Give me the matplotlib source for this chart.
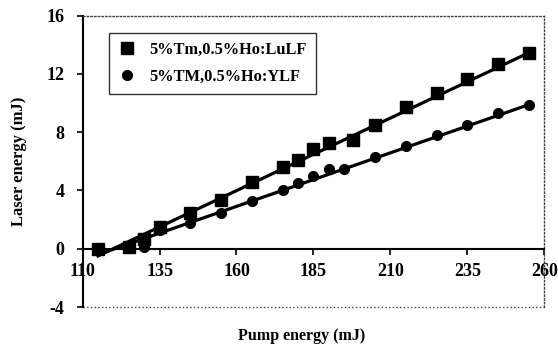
import numpy as np
import matplotlib.pyplot as plt

plt.rcParams['font.family'] = ['Liberation Serif', 'DejaVu Serif']
plt.rcParams['font.weight'] = 'bold'
plt.rcParams['axes.unicode_minus'] = False

# LuLF (squares)
pump_lulf = [115, 125, 130, 135, 145, 155, 165, 175, 180, 185, 190, 198, 205, 215, 225, 235, 245, 255]
energy_lulf = [0.0, 0.1, 0.7, 1.5, 2.45, 3.35, 4.55, 5.6, 6.1, 6.85, 7.25, 7.45, 8.5, 9.7, 10.65, 11.65, 12.65, 13.4]

# YLF (circles)
pump_ylf = [130, 135, 145, 155, 165, 175, 180, 185, 190, 195, 205, 215, 225, 235, 245, 255]
energy_ylf = [0.15, 1.25, 1.75, 2.45, 3.3, 4.05, 4.5, 5.0, 5.5, 5.5, 6.3, 7.05, 7.8, 8.5, 9.3, 9.85]

# linear fits (threshold, slope)
lulf_threshold, lulf_slope = 120.0, 0.0996
ylf_threshold, ylf_slope = 120.5, 0.0735

labels = ['5%Tm,0.5%Ho:LuLF', '5%TM,0.5%Ho:YLF']

fig = plt.figure(figsize=(5.58, 3.46), dpi=100)
ax = fig.add_axes([0.148, 0.1127, 0.8275, 0.8425])

# fit lines
xf = np.array([115, 255])
ax.plot(xf, lulf_slope * (xf - lulf_threshold), color='black', lw=2.3, zorder=2)
xf2 = np.array([117, 255])
ax.plot(xf2, ylf_slope * (xf2 - ylf_threshold), color='black', lw=2.3, zorder=2)

ax.plot(pump_lulf, energy_lulf, 's', color='black', ms=9.2, label=labels[0], zorder=3)
ax.plot(pump_ylf, energy_ylf, 'o', color='black', ms=7, label=labels[1], zorder=3)

ax.set_xlim(110, 260)
ax.set_ylim(-4, 16)
ax.set_xticks([110, 135, 160, 185, 210, 235, 260])
ax.set_yticks([-4, 0, 4, 8, 12, 16])

# x axis drawn through zero, dotted frame elsewhere
ax.spines['bottom'].set_position(('data', 0))
ax.spines['bottom'].set_linewidth(1.5)
ax.spines['left'].set_linewidth(1.5)
for s in ['top', 'right']:
    ax.spines[s].set_linestyle(':')
    ax.spines[s].set_linewidth(1.0)
    ax.spines[s].set_color('#444444')
ax.axhline(-4, color='#444444', lw=1.0, ls=':', clip_on=False, zorder=1)

ax.tick_params(axis='both', direction='out', length=4, width=1.2, labelsize=13)
ax.tick_params(axis='y', pad=9)
ax.tick_params(axis='x', pad=6)
for lbl in ax.get_xticklabels() + ax.get_yticklabels():
    lbl.set_fontweight('bold')

ax.set_ylabel('Laser energy (mJ)', fontsize=12, fontweight='bold', labelpad=14)
fig.text(0.54, 0.03, 'Pump energy (mJ)', ha='center', va='center', fontsize=11.5, fontweight='bold')

leg = ax.legend(loc='upper left', bbox_to_anchor=(0.058, 0.94), frameon=True, fancybox=False,
                edgecolor='black', handlelength=1.0, handletextpad=0.9, borderpad=0.55,
                labelspacing=0.65, borderaxespad=0, prop={'weight': 'bold', 'size': 11.8})
leg.get_frame().set_linewidth(1.0)

fig.savefig('out.png', dpi=100)
